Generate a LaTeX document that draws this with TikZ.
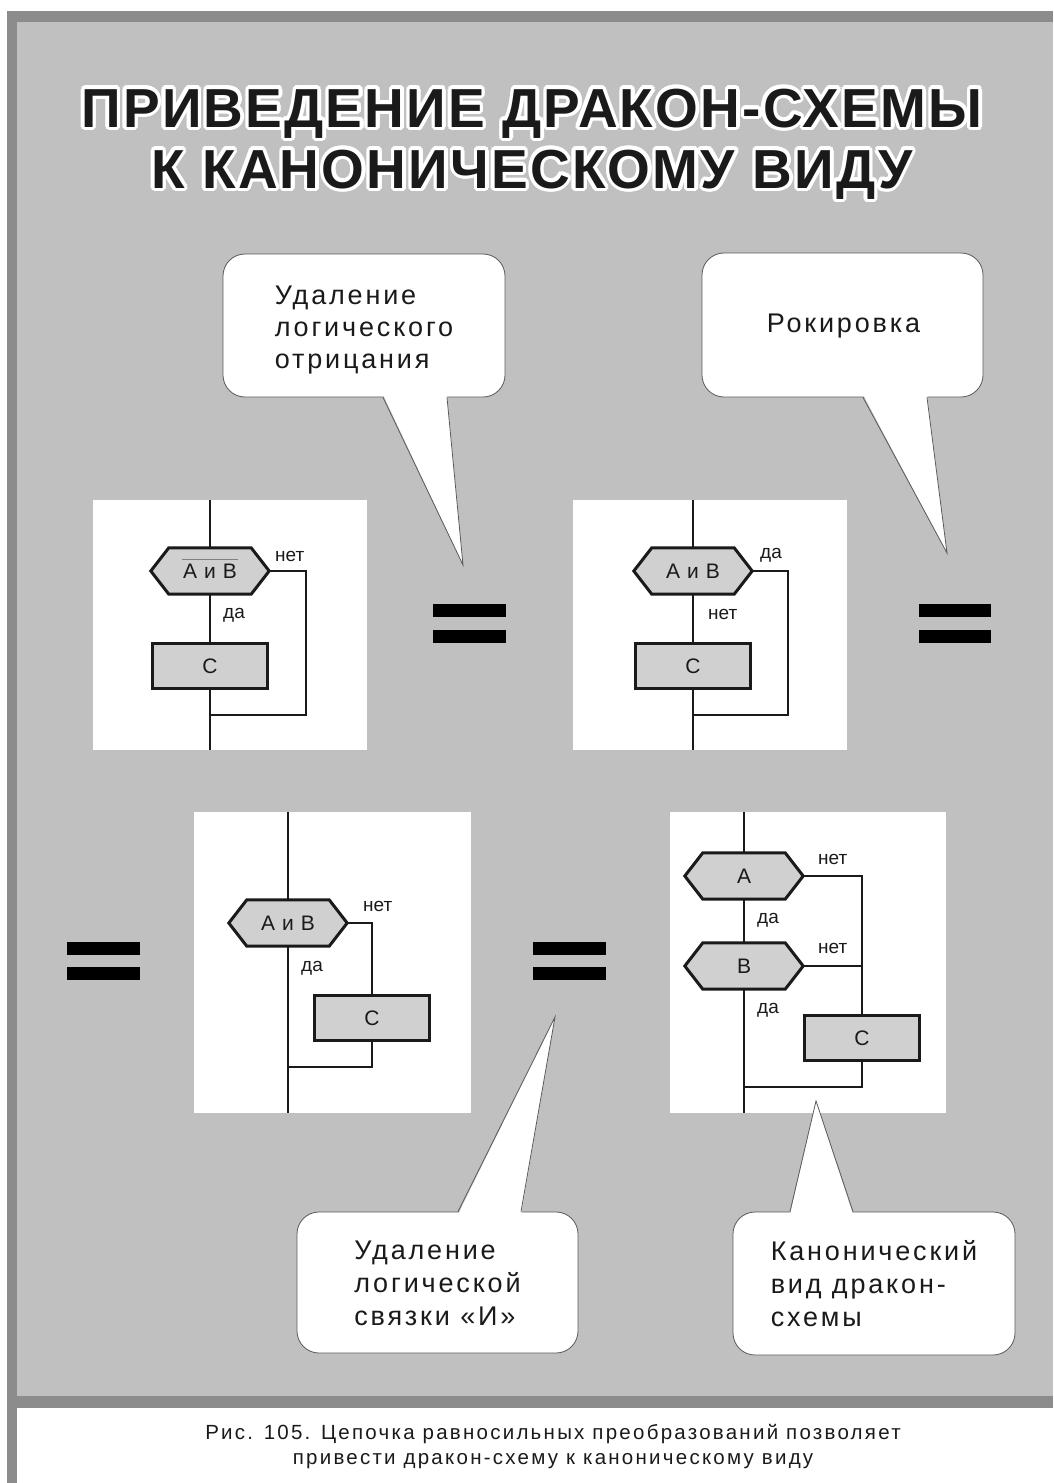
\documentclass[tikz,border=0pt]{standalone}
\usepackage{fontspec}
\setmainfont{Liberation Sans}
\newfontfamily\titlefont[LetterSpace=4]{Liberation Sans Bold}
\newfontfamily\bubblefont[LetterSpace=10.5]{Liberation Sans}
\newfontfamily\capfont[LetterSpace=11]{Liberation Sans}
\newfontfamily\panelfont[LetterSpace=6]{Liberation Sans}

\definecolor{pagegray}{HTML}{C0C0C0}
\definecolor{framegray}{HTML}{8C8C8C}
\definecolor{shapegray}{HTML}{D0D0D0}
\definecolor{ink}{HTML}{1A1A1A}
\definecolor{bubbleline}{HTML}{5A5A5A}

\tikzset{
  flow/.style={draw=ink, line width=2pt, line join=miter},
  shapeline/.style={draw=ink, fill=shapegray, line width=3pt, line join=miter},
  hexframe/.style={rectangle, inner sep=0pt, minimum width=118pt, minimum height=46pt},
  cbox/.style={rectangle, draw=ink, fill=shapegray, line width=3pt, minimum width=115pt,
    minimum height=45pt, inner sep=0pt, text=ink, font=\panelfont\fontsize{21}{24}\selectfont},
  shapetext/.style={inner sep=0pt, text=ink, font=\panelfont\fontsize{21}{24}\selectfont},
  branchlbl/.style={anchor=base west, inner sep=0pt, text=ink, font=\fontsize{19}{22}\selectfont},
  bubble/.style={rectangle, rounded corners=22pt, draw=bubbleline, fill=white, line width=0.8pt,
    inner sep=0pt},
  bubbletext/.style={align=left, inner sep=0pt, text=ink, font=\bubblefont\fontsize{27}{33}\selectfont},
  bubbleedge/.style={draw=bubbleline, line width=0.8pt, line join=miter},
  titletext/.style={anchor=base, inner sep=0pt, text=ink, font=\titlefont\fontsize{55}{60}\selectfont},
  eqbar/.style={fill=black},
}

% hexagonal decision block: name, x, y, label
\newcommand\hexnode[4]{%
  \node[hexframe] (#1) at (#2,#3) {};
  \filldraw[shapeline] (#1.west) -- ([xshift=18pt]#1.north west) -- ([xshift=-18pt]#1.north east)
    -- (#1.east) -- ([xshift=-18pt]#1.south east) -- ([xshift=18pt]#1.south west) -- cycle;
  \node[shapetext] (#1-label) at (#1.center) {#4};}

% title line with a white halo: name, position, text
\newcommand\halotitle[3]{%
  \foreach \ang in {0,22.5,...,337.5}{%
    \node[titletext, text=white, xshift={3.5*cos(\ang)}, yshift={3.5*sin(\ang)}] (#1-h\ang) at #2 {#3};}
  \node[titletext] (#1) at #2 {#3};}

\begin{document}
\begin{tikzpicture}[x=1pt, y=-1pt]
\useasboundingbox (0,0) rectangle (1053,1483);
\fill[white] (0,0) rectangle (1053,1483);

% frame and field
\fill[framegray] (7,11) rectangle (1053,1408);
\fill[framegray] (7,11) rectangle (17,1483);
\fill[pagegray] (17,22) rectangle (1053,1396);

% title
\halotitle{title1}{(532,127)}{ПРИВЕДЕНИЕ ДРАКОН-СХЕМЫ}
\halotitle{title2}{(532,188)}{К КАНОНИЧЕСКОМУ ВИДУ}

% white panels
\fill[white] (93,500) rectangle (367,750);
\fill[white] (573,500) rectangle (847,750);
\fill[white] (194,812) rectangle (471,1113);
\fill[white] (670,812) rectangle (946,1113);

% ---------- panel 1: negated condition ----------
\coordinate (p1top) at (210,500);
\coordinate (p1bot) at (210,750);
\coordinate (p1join) at (210,715);
\coordinate (p1side) at (306,571);
\hexnode{h1}{210}{571}{А и В}
\draw[gray, line width=1pt] ([xshift=-28pt,yshift=12pt]h1.center) -- ([xshift=28pt,yshift=12pt]h1.center);
\node[cbox] (b1) at (210,666) {С};
\draw[flow] (p1top) -- (h1.north);
\draw[flow] (h1.south) -- (b1.north);
\draw[flow] (b1.south) -- (p1bot);
\draw[flow] (h1.east) -- (p1side) |- (p1join);
\node[branchlbl] (l1a) at (275,561) {нет};
\node[branchlbl] (l1b) at (223,618) {да};

% ---------- panel 2: exits swapped ----------
\coordinate (p2top) at (693,500);
\coordinate (p2bot) at (693,750);
\coordinate (p2join) at (693,715);
\coordinate (p2side) at (788,571);
\hexnode{h2}{693}{571}{А и В}
\node[cbox] (b2) at (693,666) {С};
\draw[flow] (p2top) -- (h2.north);
\draw[flow] (h2.south) -- (b2.north);
\draw[flow] (b2.south) -- (p2bot);
\draw[flow] (h2.east) -- (p2side) |- (p2join);
\node[branchlbl] (l2a) at (760,558) {да};
\node[branchlbl] (l2b) at (708,619) {нет};

% ---------- panel 3: action moved to the side ----------
\coordinate (p3top) at (288,812);
\coordinate (p3bot) at (288,1113);
\coordinate (p3join) at (288,1067);
\coordinate (p3side) at (372,923);
\hexnode{h3}{288}{923}{А и В}
\node[cbox] (b3) at (372,1018) {С};
\draw[flow] (p3top) -- (h3.north);
\draw[flow] (h3.south) -- (p3bot);
\draw[flow] (h3.east) -- (p3side) -- (b3.north);
\draw[flow] (b3.south) |- (p3join);
\node[branchlbl] (l3a) at (363,911) {нет};
\node[branchlbl] (l3b) at (301,971) {да};

% ---------- panel 4: canonical form ----------
\coordinate (p4top) at (744,812);
\coordinate (p4bot) at (744,1113);
\coordinate (p4join) at (744,1087);
\coordinate (p4sideA) at (862,876);
\coordinate (p4sideB) at (862,966);
\hexnode{hA}{744}{876}{А}
\hexnode{hB}{744}{966}{В}
\node[cbox] (b4) at (862,1038) {С};
\draw[flow] (p4top) -- (hA.north);
\draw[flow] (hA.south) -- (hB.north);
\draw[flow] (hB.south) -- (p4bot);
\draw[flow] (hA.east) -- (p4sideA) -- (b4.north);
\draw[flow] (hB.east) -- (p4sideB);
\draw[flow] (b4.south) |- (p4join);
\node[branchlbl] (l4a) at (818,864) {нет};
\node[branchlbl] (l4b) at (757,923) {да};
\node[branchlbl] (l4c) at (818,953) {нет};
\node[branchlbl] (l4d) at (757,1013) {да};

% ---------- equality signs ----------
\fill[eqbar] (433,604) rectangle (506,617);
\fill[eqbar] (433,630) rectangle (506,643);
\fill[eqbar] (919,604) rectangle (991,617);
\fill[eqbar] (919,630) rectangle (991,643);
\fill[eqbar] (67,942) rectangle (140,955);
\fill[eqbar] (67,967) rectangle (140,980);
\fill[eqbar] (533,942) rectangle (606,955);
\fill[eqbar] (533,967) rectangle (606,980);

% ---------- speech bubbles ----------
\node[bubble, minimum width=282pt, minimum height=143pt] (q1) at (364,325.5) {};
\coordinate (t1) at (463,565);
\fill[white] ([xshift=19pt,yshift=3pt]q1.south) -- (t1) -- ([xshift=83pt,yshift=3pt]q1.south) -- cycle;
\draw[bubbleedge] ([xshift=19pt]q1.south) -- (t1) -- ([xshift=83pt]q1.south);
\node[bubbletext, font=\bubblefont\fontsize{27}{32}\selectfont] (q1-text) at ([xshift=0pt,yshift=-5pt]q1.center)
  {Удаление\\логического\\отрицания};

\node[bubble, minimum width=281pt, minimum height=144pt] (q2) at (842.5,325) {};
\coordinate (t2) at (947,553);
\fill[white] ([xshift=20.5pt,yshift=3pt]q2.south) -- (t2) -- ([xshift=84.5pt,yshift=3pt]q2.south) -- cycle;
\draw[bubbleedge] ([xshift=20.5pt]q2.south) -- (t2) -- ([xshift=84.5pt]q2.south);
\node[bubbletext] (q2-text) at ([xshift=1pt,yshift=-1pt]q2.center) {Рокировка};

\node[bubble, minimum width=281pt, minimum height=141pt] (q3) at (437.5,1282.5) {};
\coordinate (t3) at (555,1017);
\fill[white] ([xshift=20.5pt,yshift=-3pt]q3.north) -- (t3) -- ([xshift=83.5pt,yshift=-3pt]q3.north) -- cycle;
\draw[bubbleedge] ([xshift=20.5pt]q3.north) -- (t3) -- ([xshift=83.5pt]q3.north);
\node[bubbletext] (q3-text) at ([xshift=0pt,yshift=-1pt]q3.center)
  {Удаление\\логической\\связки «И»};

\node[bubble, minimum width=282pt, minimum height=143pt] (q4) at (874,1283.5) {};
\coordinate (t4) at (816,1101);
\fill[white] ([xshift=-84pt,yshift=-3pt]q4.north) -- (t4) -- ([xshift=-21pt,yshift=-3pt]q4.north) -- cycle;
\draw[bubbleedge] ([xshift=-84pt]q4.north) -- (t4) -- ([xshift=-21pt]q4.north);
\node[bubbletext] (q4-text) at ([xshift=0pt]q4.center)
  {Канонический\\вид дракон-\\схемы};

% ---------- caption ----------
\node[align=center, inner sep=0pt, text=ink, font=\capfont\fontsize{20.5}{25}\selectfont] (cap) at (553,1446.5)
  {Рис. 105. Цепочка равносильных преобразований позволяет\\привести дракон-схему к каноническому виду};
\end{tikzpicture}
\end{document}
